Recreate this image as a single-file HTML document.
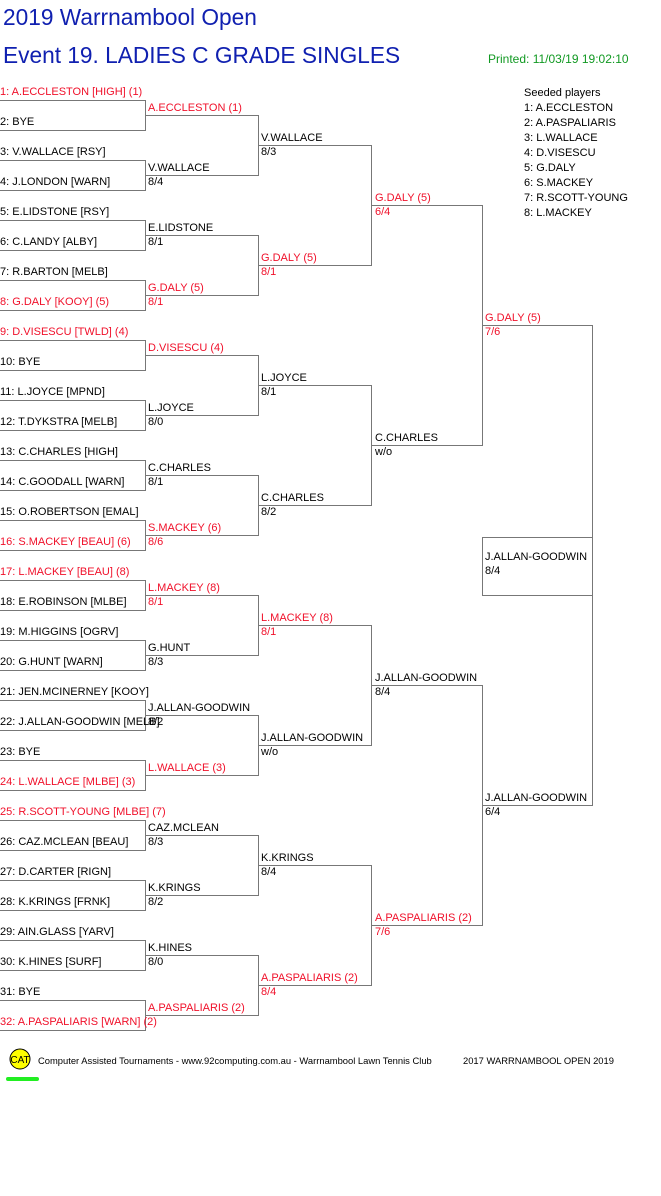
<!DOCTYPE html>
<html><head><meta charset="utf-8"><style>
html,body{margin:0;padding:0;background:#fff;}
svg{display:block;font-family:"Liberation Sans",Arial,sans-serif;}
.t{font-size:11px;fill:#000;}
.r{fill:#f0102a;}
</style></head><body>
<svg width="661" height="1196" viewBox="0 0 661 1196">
<text x="3" y="25" font-size="22.7" fill="#1020b0">2019 Warrnambool Open</text>
<text x="3" y="63" font-size="22.7" fill="#1020b0">Event 19. LADIES C GRADE SINGLES</text>
<text x="488" y="63" font-size="12" fill="#119922">Printed: 11/03/19 19:02:10</text>
<g class="t">
<text x="524" y="96" class="t">Seeded players</text>
<text x="524" y="111" class="t">1: A.ECCLESTON</text>
<text x="524" y="126" class="t">2: A.PASPALIARIS</text>
<text x="524" y="141" class="t">3: L.WALLACE</text>
<text x="524" y="156" class="t">4: D.VISESCU</text>
<text x="524" y="171" class="t">5: G.DALY</text>
<text x="524" y="186" class="t">6: S.MACKEY</text>
<text x="524" y="201" class="t">7: R.SCOTT-YOUNG</text>
<text x="524" y="216" class="t">8: L.MACKEY</text>
</g>
<g stroke="#777" stroke-width="1" fill="none" shape-rendering="crispEdges">
<path d="M0 100.5H145M0 130.5H145M0 160.5H145M0 190.5H145M0 220.5H145M0 250.5H145M0 280.5H145M0 310.5H145M0 340.5H145M0 370.5H145M0 400.5H145M0 430.5H145M0 460.5H145M0 490.5H145M0 520.5H145M0 550.5H145M0 580.5H145M0 610.5H145M0 640.5H145M0 670.5H145M0 700.5H145M0 730.5H145M0 760.5H145M0 790.5H145M0 820.5H145M0 850.5H145M0 880.5H145M0 910.5H145M0 940.5H145M0 970.5H145M0 1000.5H145M0 1030.5H145"/>
<path d="M145.5 100V131M145.5 160V191M145.5 220V251M145.5 280V311M145.5 340V371M145.5 400V431M145.5 460V491M145.5 520V551M145.5 580V611M145.5 640V671M145.5 700V731M145.5 760V791M145.5 820V851M145.5 880V911M145.5 940V971M145.5 1000V1031"/>
<path d="M145 115.5H258M145 175.5H258M145 235.5H258M145 295.5H258M145 355.5H258M145 415.5H258M145 475.5H258M145 535.5H258M145 595.5H258M145 655.5H258M145 715.5H258M145 775.5H258M145 835.5H258M145 895.5H258M145 955.5H258M145 1015.5H258"/>
<path d="M258.5 115V176M258.5 235V296M258.5 355V416M258.5 475V536M258.5 595V656M258.5 715V776M258.5 835V896M258.5 955V1016"/>
<path d="M258 145.5H371M258 265.5H371M258 385.5H371M258 505.5H371M258 625.5H371M258 745.5H371M258 865.5H371M258 985.5H371"/>
<path d="M371.5 145V266M371.5 385V506M371.5 625V746M371.5 865V986"/>
<path d="M371 205.5H482M371 445.5H482M371 685.5H482M371 925.5H482"/>
<path d="M482.5 205V446M482.5 685V926"/>
<path d="M482 325.5H592M482 805.5H592M592.5 325V806"/>
<rect x="482.5" y="537.5" width="110" height="58"/>
</g>
<g class="t">
<text x="0" y="95" class="t r">1: A.ECCLESTON [HIGH] (1)</text>
<text x="0" y="125" class="t">2: BYE</text>
<text x="0" y="155" class="t">3: V.WALLACE [RSY]</text>
<text x="0" y="185" class="t">4: J.LONDON [WARN]</text>
<text x="0" y="215" class="t">5: E.LIDSTONE [RSY]</text>
<text x="0" y="245" class="t">6: C.LANDY [ALBY]</text>
<text x="0" y="275" class="t">7: R.BARTON [MELB]</text>
<text x="0" y="305" class="t r">8: G.DALY [KOOY] (5)</text>
<text x="0" y="335" class="t r">9: D.VISESCU [TWLD] (4)</text>
<text x="0" y="365" class="t">10: BYE</text>
<text x="0" y="395" class="t">11: L.JOYCE [MPND]</text>
<text x="0" y="425" class="t">12: T.DYKSTRA [MELB]</text>
<text x="0" y="455" class="t">13: C.CHARLES [HIGH]</text>
<text x="0" y="485" class="t">14: C.GOODALL [WARN]</text>
<text x="0" y="515" class="t">15: O.ROBERTSON [EMAL]</text>
<text x="0" y="545" class="t r">16: S.MACKEY [BEAU] (6)</text>
<text x="0" y="575" class="t r">17: L.MACKEY [BEAU] (8)</text>
<text x="0" y="605" class="t">18: E.ROBINSON [MLBE]</text>
<text x="0" y="635" class="t">19: M.HIGGINS [OGRV]</text>
<text x="0" y="665" class="t">20: G.HUNT [WARN]</text>
<text x="0" y="695" class="t">21: JEN.MCINERNEY [KOOY]</text>
<text x="0" y="725" class="t">22: J.ALLAN-GOODWIN [MELB]</text>
<text x="0" y="755" class="t">23: BYE</text>
<text x="0" y="785" class="t r">24: L.WALLACE [MLBE] (3)</text>
<text x="0" y="815" class="t r">25: R.SCOTT-YOUNG [MLBE] (7)</text>
<text x="0" y="845" class="t">26: CAZ.MCLEAN [BEAU]</text>
<text x="0" y="875" class="t">27: D.CARTER [RIGN]</text>
<text x="0" y="905" class="t">28: K.KRINGS [FRNK]</text>
<text x="0" y="935" class="t">29: AIN.GLASS [YARV]</text>
<text x="0" y="965" class="t">30: K.HINES [SURF]</text>
<text x="0" y="995" class="t">31: BYE</text>
<text x="0" y="1025" class="t r">32: A.PASPALIARIS [WARN] (2)</text>

<text x="148" y="111" class="t r">A.ECCLESTON (1)</text>
<text x="148" y="171" class="t">V.WALLACE</text><text x="148" y="185" class="t">8/4</text>
<text x="148" y="231" class="t">E.LIDSTONE</text><text x="148" y="245" class="t">8/1</text>
<text x="148" y="291" class="t r">G.DALY (5)</text><text x="148" y="305" class="t r">8/1</text>
<text x="148" y="351" class="t r">D.VISESCU (4)</text>
<text x="148" y="411" class="t">L.JOYCE</text><text x="148" y="425" class="t">8/0</text>
<text x="148" y="471" class="t">C.CHARLES</text><text x="148" y="485" class="t">8/1</text>
<text x="148" y="531" class="t r">S.MACKEY (6)</text><text x="148" y="545" class="t r">8/6</text>
<text x="148" y="591" class="t r">L.MACKEY (8)</text><text x="148" y="605" class="t r">8/1</text>
<text x="148" y="651" class="t">G.HUNT</text><text x="148" y="665" class="t">8/3</text>
<text x="148" y="711" class="t">J.ALLAN-GOODWIN</text><text x="148" y="725" class="t">8/2</text>
<text x="148" y="771" class="t r">L.WALLACE (3)</text>
<text x="148" y="831" class="t">CAZ.MCLEAN</text><text x="148" y="845" class="t">8/3</text>
<text x="148" y="891" class="t">K.KRINGS</text><text x="148" y="905" class="t">8/2</text>
<text x="148" y="951" class="t">K.HINES</text><text x="148" y="965" class="t">8/0</text>
<text x="148" y="1011" class="t r">A.PASPALIARIS (2)</text>

<text x="261" y="141" class="t">V.WALLACE</text><text x="261" y="155" class="t">8/3</text>
<text x="261" y="261" class="t r">G.DALY (5)</text><text x="261" y="275" class="t r">8/1</text>
<text x="261" y="381" class="t">L.JOYCE</text><text x="261" y="395" class="t">8/1</text>
<text x="261" y="501" class="t">C.CHARLES</text><text x="261" y="515" class="t">8/2</text>
<text x="261" y="621" class="t r">L.MACKEY (8)</text><text x="261" y="635" class="t r">8/1</text>
<text x="261" y="741" class="t">J.ALLAN-GOODWIN</text><text x="261" y="755" class="t">w/o</text>
<text x="261" y="861" class="t">K.KRINGS</text><text x="261" y="875" class="t">8/4</text>
<text x="261" y="981" class="t r">A.PASPALIARIS (2)</text><text x="261" y="995" class="t r">8/4</text>

<text x="375" y="201" class="t r">G.DALY (5)</text><text x="375" y="215" class="t r">6/4</text>
<text x="375" y="441" class="t">C.CHARLES</text><text x="375" y="455" class="t">w/o</text>
<text x="375" y="681" class="t">J.ALLAN-GOODWIN</text><text x="375" y="695" class="t">8/4</text>
<text x="375" y="921" class="t r">A.PASPALIARIS (2)</text><text x="375" y="935" class="t r">7/6</text>

<text x="485" y="321" class="t r">G.DALY (5)</text><text x="485" y="335" class="t r">7/6</text>
<text x="485" y="801" class="t">J.ALLAN-GOODWIN</text><text x="485" y="815" class="t">6/4</text>
<text x="485" y="560" class="t">J.ALLAN-GOODWIN</text><text x="485" y="574" class="t">8/4</text>
</g>
<circle cx="20" cy="1059" r="10" fill="#ffff00" stroke="#000" stroke-width="1"/>
<text x="20" y="1063" font-size="10" text-anchor="middle" fill="#000">CAT</text>
<rect x="6" y="1077" width="33" height="4" rx="2" fill="#22ee22"/>
<text x="38" y="1064" font-size="9.4" fill="#000">Computer Assisted Tournaments - www.92computing.com.au -  Warrnambool Lawn Tennis Club</text>
<text x="463" y="1064" font-size="9.4" fill="#000">2017 WARRNAMBOOL OPEN 2019</text>
</svg>
</body></html>
